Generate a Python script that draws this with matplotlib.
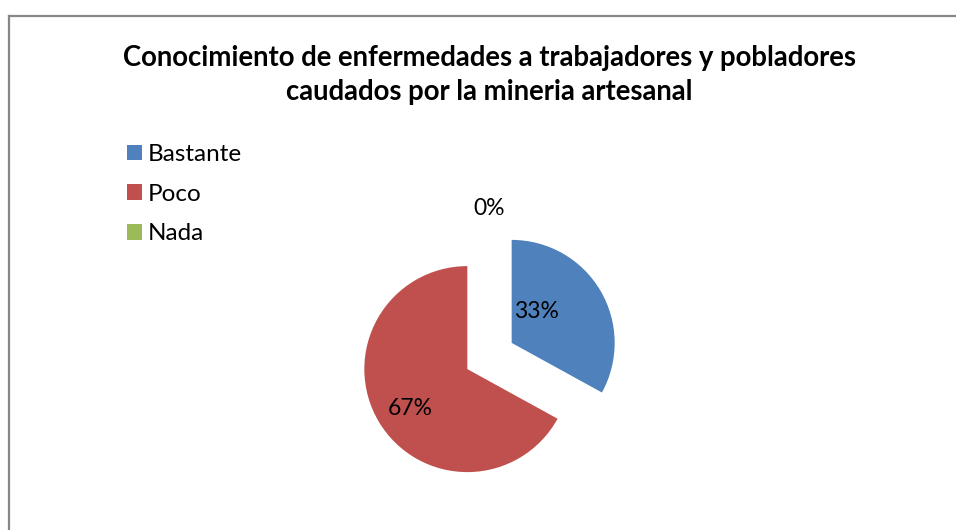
import matplotlib.pyplot as plt
from matplotlib.lines import Line2D

# survey answers and their share
categories = ["Bastante", "Poco", "Nada"]
shares = [33, 67, 0]
colors = ["#4F81BD", "#C0504D", "#9BBB59"]
title = "Conocimiento de enfermedades a trabajadores y pobladores\ncaudados por la mineria artesanal"

plt.rcParams['font.family'] = ['Lato', 'DejaVu Sans']

W, H = 956, 530
fig = plt.figure(figsize=(W / 100, H / 100), dpi=100)

# chart frame (only left and top edges visible)
fig.add_artist(Line2D([8.5 / W, 8.5 / W], [0, 1 - 15.5 / H], transform=fig.transFigure,
                      color="#878787", lw=1.6))
fig.add_artist(Line2D([8.5 / W, 1], [1 - 15.5 / H, 1 - 15.5 / H], transform=fig.transFigure,
                      color="#878787", lw=1.6))

fig.text(489.5 / W, 1 - 75 / H, title, ha="center", va="center", fontsize=19.8,
         fontweight="bold", linespacing=1.36)

# pie: radius 103 px, centre at (489.5, 356) px
r_px = 103
lim = 1.6
cx, cy = 489.5, 356
half = lim * r_px
ax = fig.add_axes([(cx - half) / W, (H - cy - half) / H, 2 * half / W, 2 * half / H])
wedges, texts, autotexts = ax.pie(shares, colors=colors, startangle=90, counterclock=False,
                                  explode=[0.25, 0.25, 0.25], autopct="%.0f%%",
                                  textprops={"fontsize": 16.5, "color": "black"})
ax.set_xlim(-lim, lim)
ax.set_ylim(-lim, lim)
ax.set_aspect("equal")

# label placement around the exploded slices
label_pos = [(0.46, 0.43), (-0.77, -0.51), (0.0, 1.43)]
for t, pos in zip(autotexts, label_pos):
    t.set_position(pos)
    t.set_ha("center")
    t.set_va("center")

fig.legend(wedges, categories, loc="upper left", bbox_to_anchor=(127 / W, 1 - 144 / H),
           frameon=False, fontsize=17.5, handlelength=0.62, handleheight=0.62,
           handletextpad=0.25, labelspacing=0.77, borderpad=0, borderaxespad=0)

fig.savefig("out.png", dpi=100)
